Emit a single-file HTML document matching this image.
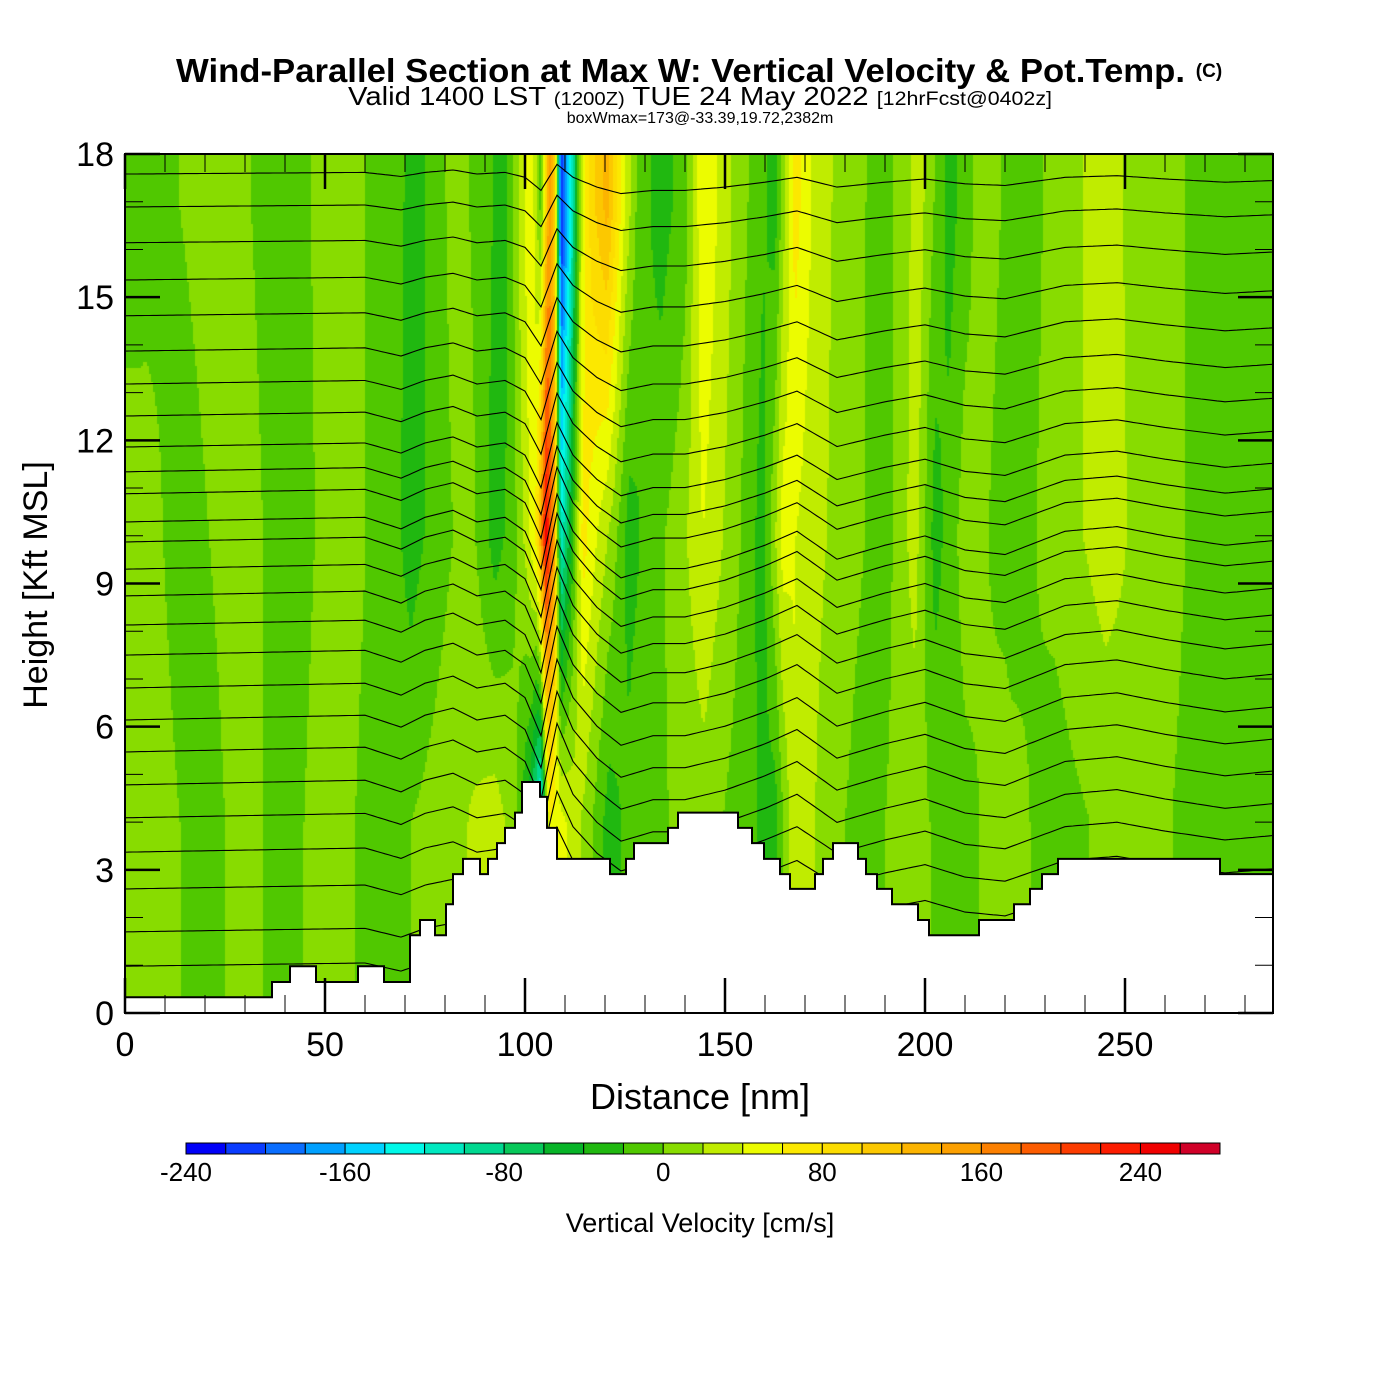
<!DOCTYPE html>
<html><head><meta charset="utf-8">
<style>
html,body{margin:0;padding:0;background:#fff;}
#wrap{position:relative;width:1400px;height:1400px;font-family:"Liberation Sans",sans-serif;}
#field{position:absolute;left:125px;top:154px;}
svg{position:absolute;left:0;top:0;}
</style></head>
<body>
<div id="wrap">
<canvas id="field" width="1148" height="859"></canvas>
<svg id="svg" width="1400" height="1400">
<g font-family="Liberation Sans, sans-serif">
<text x="176" y="82" font-size="33" font-weight="bold" textLength="1009" lengthAdjust="spacingAndGlyphs">Wind-Parallel Section at Max W: Vertical Velocity &amp; Pot.Temp.</text>
<text x="1209" y="77" font-size="19" font-weight="bold" text-anchor="middle">(C)</text>
<text x="348" y="105" font-size="26" textLength="704" lengthAdjust="spacingAndGlyphs">Valid 1400 LST <tspan font-size="18">(1200Z)</tspan> TUE 24 May 2022 <tspan font-size="19">[12hrFcst@0402z]</tspan></text>
<text x="700" y="123" font-size="16" text-anchor="middle">boxWmax=173@-33.39,19.72,2382m</text>
<text x="700" y="1109" font-size="36" text-anchor="middle">Distance [nm]</text>
<text transform="translate(47,585) rotate(-90)" font-size="34" text-anchor="middle">Height [Kft MSL]</text>
<text x="700" y="1232" font-size="27" text-anchor="middle">Vertical Velocity [cm/s]</text>
</g>
<g id="lines"></g>
<g id="terrain"></g>
<g id="axes"></g>
<g id="cbar"></g>
</svg>
</div>
<script>
// ---- data ----
const colors=["#0000f8","#0a3cff","#0a6eff","#00a0ff","#00d2ff","#00f8e8","#00e8c0","#00d890","#08c85a","#08b428","#20b810","#50c800","#88dc00","#c0ec00","#ecfc00","#fce800","#fcdc00","#fcc800","#fcb400","#fca000","#fc8000","#fc5c00","#fc3c00","#fc1c00","#f00000","#d00028"];
const cbarLabels=[-240,-160,-80,0,80,160,240];
const levelHeights=[4,10,17];
const lowX=[0,15,25,35,42,60,68,90,95,100,103,105,107,110,118,124,130,160,165,170,180,190,200,215,225,240,260];
const lowW=[10,-10,10,-10,10,-10,10,30,10,-60,-150,60,50,20,-30,-10,10,-30,40,10,-10,10,-10,10,-10,10,-10];
const midX=[0,10,18,38,44,64,69,74,82,90,95,99,102,104,106.5,108,110,113,116,120,124,128,135,142,147,157,162,167,175,185,195,200,205,215,228,240,250,262];
const midW=[10,-10,10,-10,10,-10,-30,-10,10,-30,-10,30,70,250,150,-120,-40,70,40,10,-30,-10,10,40,10,-30,50,30,10,-10,30,-30,10,-10,10,30,10,-10];
const highX=[0,8,38,42,64,70,75,80,86,92,98,100,103,105,107,108,110,113,115,118,123,127,130,138,142,147,160,165,170,176,185,195,202,210,218,230,240,248,262];
const highW=[-10,10,-10,10,-10,-30,-10,10,-10,-30,30,60,-10,150,100,-230,-130,30,90,130,40,-10,-30,-10,60,10,-30,70,30,10,-10,30,-30,10,-10,10,30,10,-10];
// terrain (step start distances nm, heights kft)
const terrX=[0,36.75,41.25,47.75,58.25,64.75,71.25,73.75,77.5,80.25,82,84.5,88.75,90.75,93,95,97.5,99.25,103.75,105.5,108,121.25,125.25,127.25,135.75,138.25,153.25,156.75,159.75,163.75,166.25,172.5,174.5,177,183.25,185.25,188,191.75,198.25,201,213.5,222.25,226.25,229.25,233.25,273.75];
const terrH=[0.33,0.65,0.98,0.65,0.98,0.65,1.63,1.95,1.63,2.28,2.91,3.23,2.91,3.23,3.56,3.88,4.2,4.84,4.53,3.88,3.23,2.91,3.23,3.56,3.88,4.2,3.88,3.56,3.23,2.91,2.6,2.91,3.23,3.56,3.23,2.91,2.6,2.28,1.95,1.63,1.95,2.28,2.6,2.91,3.23,2.91];
// isentropes
const thetaBase=[17.58,16.89,16.14,15.36,14.61,13.87,13.18,12.51,11.86,11.34,10.88,10.29,9.87,9.30,8.74,8.13,7.50,6.81,6.14,5.47,4.78,4.09,3.37,2.60,1.70,0.98];
const dispX=[0,30,60,69,75,82,88,95,100,104,108,112,118,124,132,140,150,160,168,178,190,200,210,220,235,248,260,275,287];
const dispH=[0,0.05,0.1,-0.15,0.1,0.25,0,0.1,-0.2,-1.0,0.6,-0.2,-0.8,-1.2,-1.0,-1.0,-0.8,-0.5,-0.2,-0.8,-0.5,-0.3,-0.6,-0.7,-0.2,-0.1,-0.3,-0.5,-0.4];
const ampHeights=[0,5,10,15,18];
const ampVals=[0.6,1.0,1.0,0.6,0.3];
// ---- axes ----
const X0=125,X1=1273,Y0=1013,Y1=154,XMAX=287,YMAX=18;
const sx=d=>X0+d/XMAX*(X1-X0);
const sy=h=>Y0-h/YMAX*(Y0-Y1);
const NS="http://www.w3.org/2000/svg";
function mk(tag,attrs,parent){const e=document.createElementNS(NS,tag);for(const k in attrs)e.setAttribute(k,attrs[k]);parent.appendChild(e);return e;}
function lerpArr(xs,ys,d){if(d<=xs[0])return ys[0];for(let i=1;i<xs.length;i++){if(d<=xs[i]){const t=(d-xs[i-1])/(xs[i]-xs[i-1]);return ys[i-1]+t*(ys[i]-ys[i-1]);}}return ys[ys.length-1];}
function smooth(xs,ws,d){const c=xs.map((x,i)=>i<xs.length-1?(x+xs[i+1])/2:(x+XMAX)/2);return lerpArr(c,ws,d);}
function wAt(d,h){
  const a=smooth(lowX,lowW,d),b=smooth(midX,midW,d),c=smooth(highX,highW,d);
  if(h<=levelHeights[0])return a;
  if(h<=levelHeights[1]){const t=(h-levelHeights[0])/(levelHeights[1]-levelHeights[0]);return a+t*(b-a);}
  if(h<=levelHeights[2]){const t=(h-levelHeights[1])/(levelHeights[2]-levelHeights[1]);return b+t*(c-b);}
  return c;
}
const cv=document.getElementById('field'),ctx=cv.getContext('2d');
const W=cv.width,H=cv.height;
for(let px=0;px<W;px+=2){
  const d=(px+1)/W*XMAX;
  for(let py=0;py<H;py+=2){
    const h=YMAX-(py+1)/H*YMAX;
    const w=wAt(d,h);
    let k=Math.floor((w+240)/20);k=Math.max(0,Math.min(25,k));
    ctx.fillStyle=colors[k];ctx.fillRect(px,py,2,2);
  }
}
const gl=document.getElementById('lines');
thetaBase.forEach((b,i)=>{
  const amp=lerpArr(ampHeights,ampVals,b);
  let pts=[];
  for(let d=0;d<=XMAX;d+=1){pts.push(sx(d).toFixed(1)+','+sy(b+amp*lerpArr(dispX,dispH,d)).toFixed(1));}
  const p=mk('polyline',{points:pts.join(' '),fill:'none',stroke:'#000','stroke-width':1.1},gl);
  
  
});
const gt=document.getElementById('terrain');
let tp=[sx(0)+','+sy(0)];
for(let i=0;i<terrX.length;i++){const x1=sx(terrX[i]),x2=sx(i<terrX.length-1?terrX[i+1]:XMAX);tp.push(x1+','+sy(terrH[i]));tp.push(x2+','+sy(terrH[i]));}
tp.push(sx(XMAX)+','+sy(0));
const terr=mk('polygon',{points:tp.join(' '),fill:'#fff',stroke:'#000','stroke-width':2},gt);


const ga=document.getElementById('axes');
const frame=mk('rect',{x:X0,y:Y1,width:X1-X0,height:Y0-Y1,fill:'none',stroke:'#000','stroke-width':2},ga);


for(let d=0;d<=280;d+=10){const maj=d%50===0,L=maj?35:18;
  mk('line',{x1:sx(d),x2:sx(d),y1:Y0,y2:Y0-L,stroke:'#000','stroke-width':maj?2.5:1},ga);
  mk('line',{x1:sx(d),x2:sx(d),y1:Y1,y2:Y1+L,stroke:'#000','stroke-width':maj?2.5:1},ga);
  if(maj){const t=mk('text',{x:sx(d),y:1056,'font-size':34,'text-anchor':'middle','font-family':'Liberation Sans, sans-serif'},ga);t.textContent=d;
    
    }
}
for(let h=0;h<=18;h+=1){const maj=h%3===0,L=maj?35:18;
  mk('line',{x1:X0,x2:X0+L,y1:sy(h),y2:sy(h),stroke:'#000','stroke-width':maj?2.5:1},ga);
  mk('line',{x1:X1,x2:X1-L,y1:sy(h),y2:sy(h),stroke:'#000','stroke-width':maj?2.5:1},ga);
  if(maj){const t=mk('text',{x:114,y:sy(h)+12,'font-size':34,'text-anchor':'end','font-family':'Liberation Sans, sans-serif'},ga);t.textContent=h;
    
    }
}
const gc=document.getElementById('cbar');
const cbX0=186,cbX1=1220,cbW=(cbX1-cbX0)/colors.length;
colors.forEach((c,i)=>{const r=mk('rect',{x:cbX0+i*cbW,y:1143,width:cbW,height:11,fill:c,stroke:'#000','stroke-width':1},gc);
  
  });
cbarLabels.forEach(v=>{const t=mk('text',{x:cbX0+(v+240)/20*cbW,y:1181,'font-size':26,'text-anchor':'middle','font-family':'Liberation Sans, sans-serif'},gc);t.textContent=v;
  
  });
</script>
</body></html>
